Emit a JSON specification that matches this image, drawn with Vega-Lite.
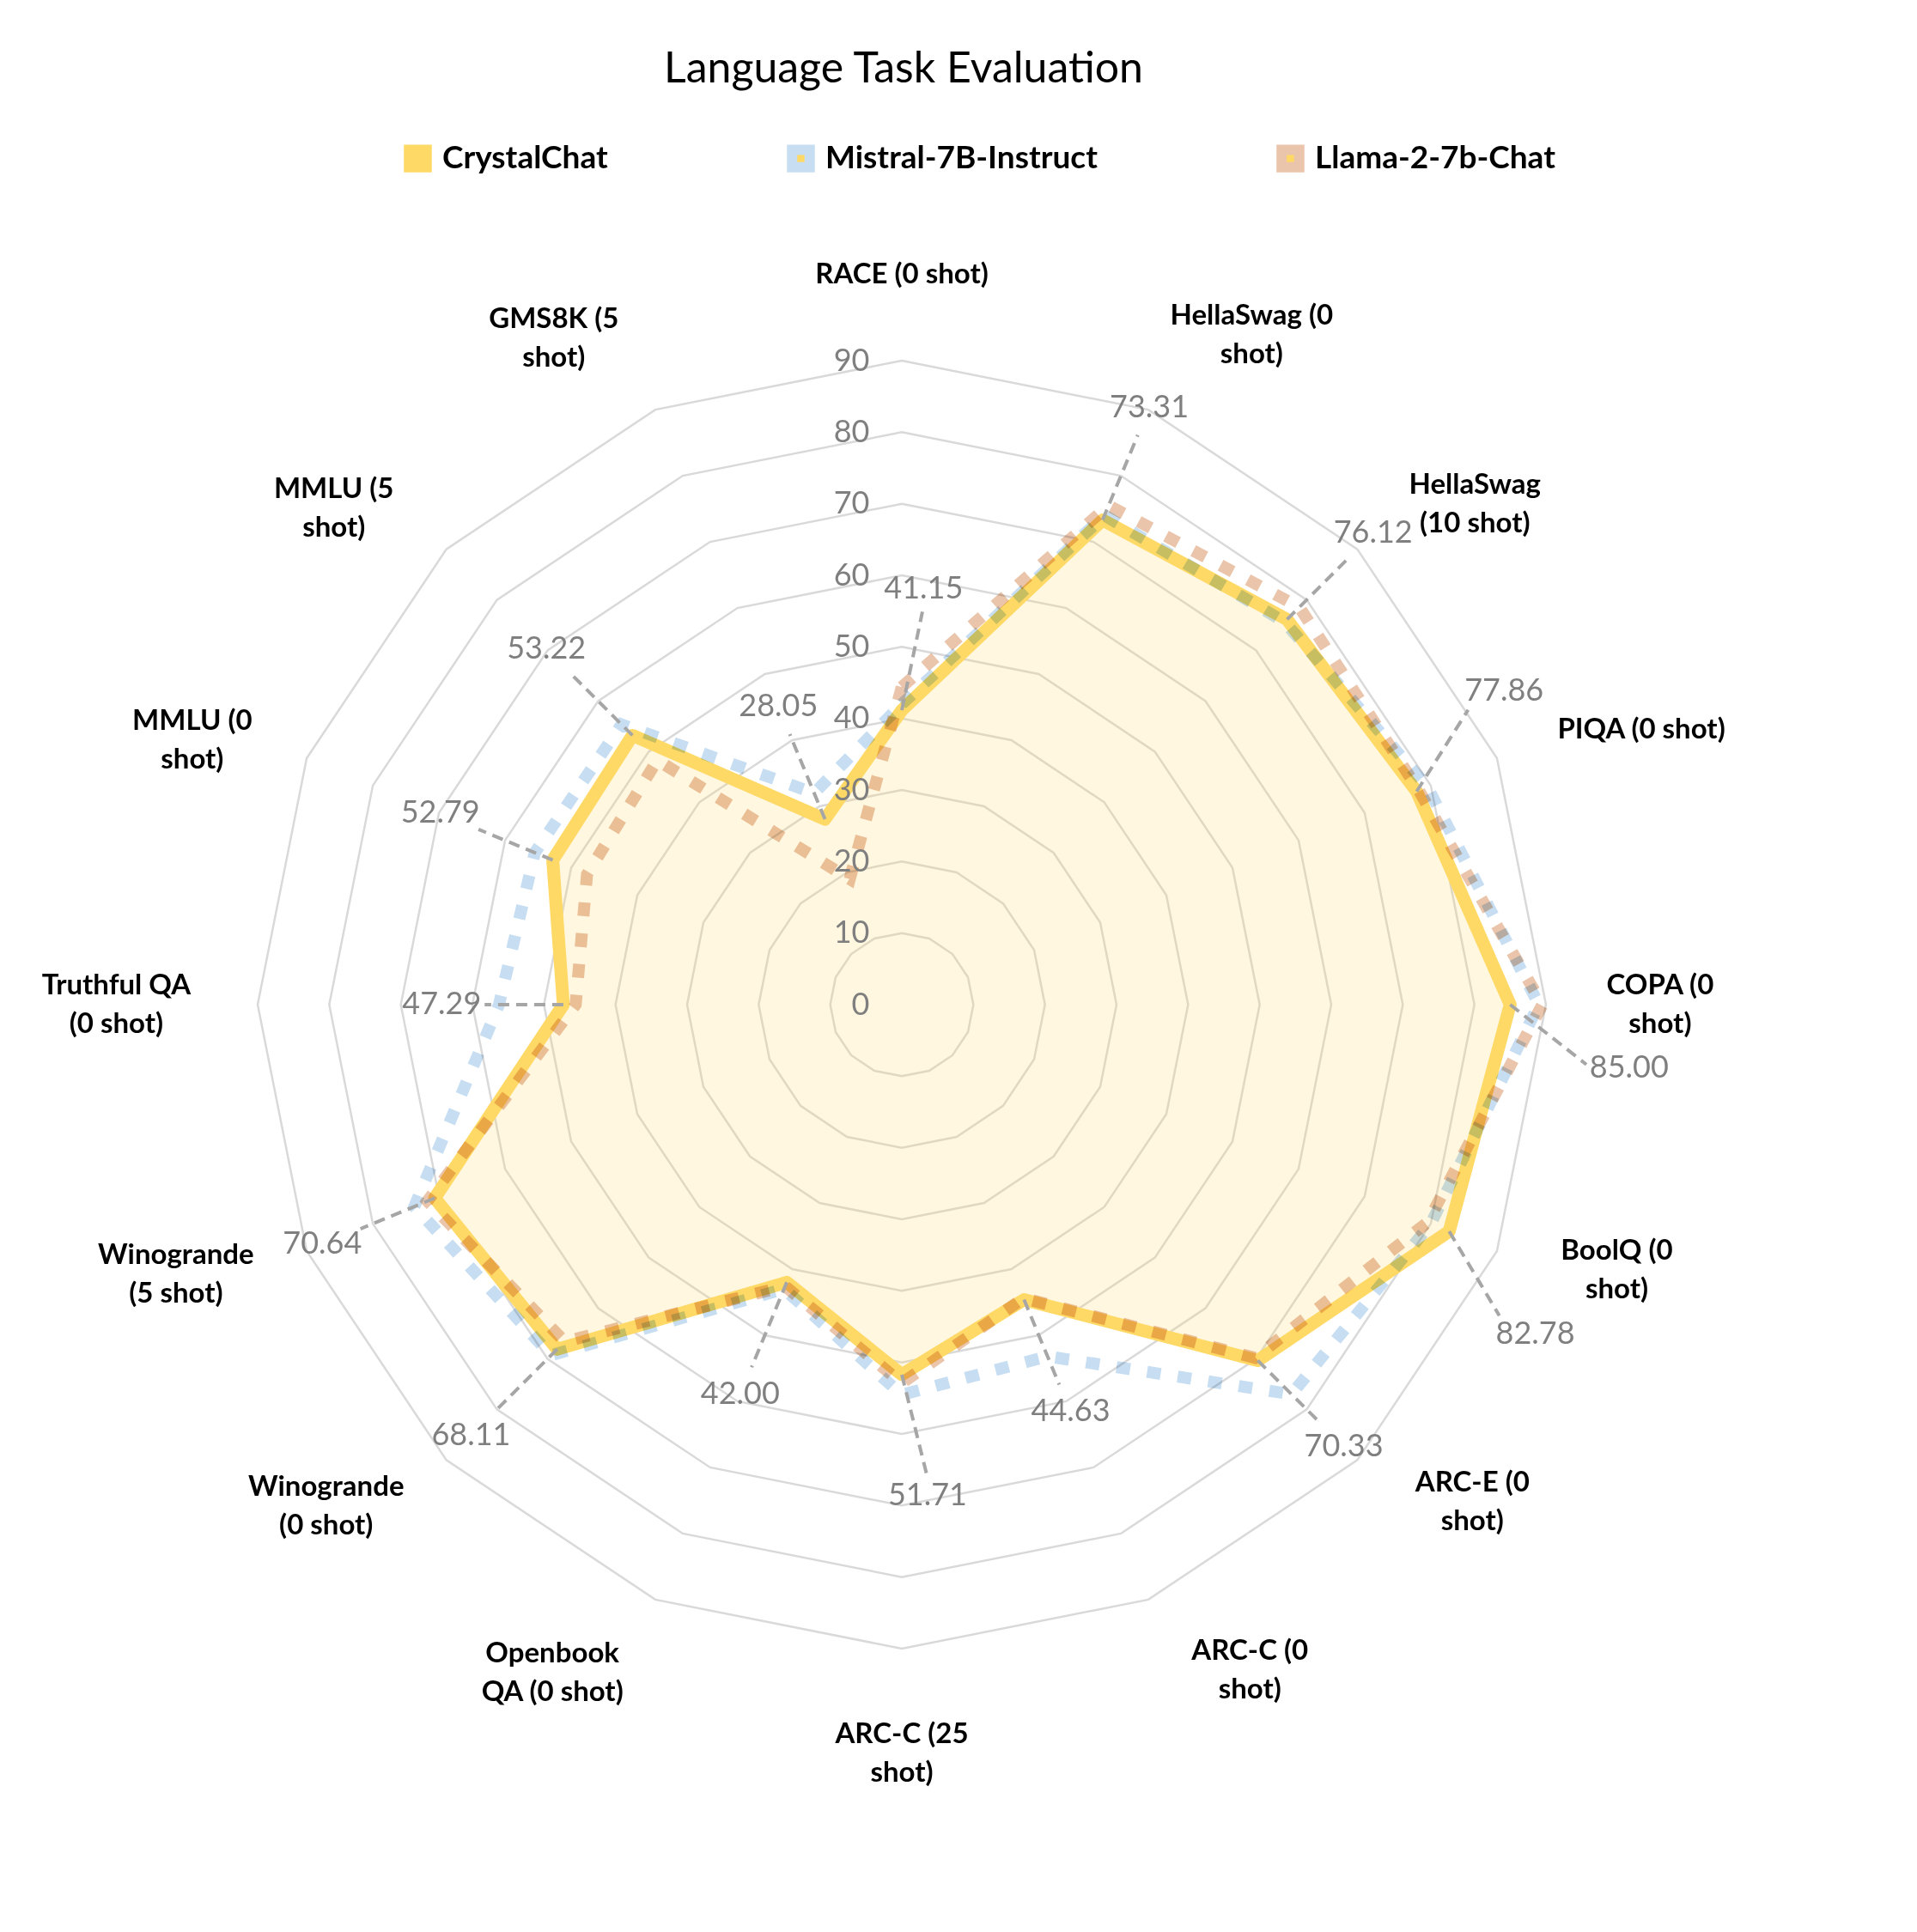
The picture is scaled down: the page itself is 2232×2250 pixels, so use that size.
{
  "$schema": "https://vega.github.io/schema/vega-lite/v6.json",
  "width": 2232,
  "height": 1990,
  "autosize": {"type": "none"},
  "padding": {"left": 0, "right": 0, "top": 260, "bottom": 0},
  "background": "white",
  "config": {"view": {"stroke": null}, "font": "Lato"},
  "title": {
    "text": "Language Task Evaluation",
    "font": "Lato",
    "fontSize": 50,
    "fontWeight": "normal",
    "color": "#000000",
    "anchor": "middle",
    "dx": -64,
    "offset": 60
  },
  "datasets": {
    "tasks": [
      {"task": "RACE (0 shot)", "order": 0, "label": "RACE (0 shot)"},
      {"task": "HellaSwag (0 shot)", "order": 1, "label": "HellaSwag (0\nshot)"},
      {"task": "HellaSwag (10 shot)", "order": 2, "label": "HellaSwag\n(10 shot)"},
      {"task": "PIQA (0 shot)", "order": 3, "label": "PIQA (0 shot)"},
      {"task": "COPA (0 shot)", "order": 4, "label": "COPA (0\nshot)"},
      {"task": "BoolQ (0 shot)", "order": 5, "label": "BoolQ (0\nshot)"},
      {"task": "ARC-E (0 shot)", "order": 6, "label": "ARC-E (0\nshot)"},
      {"task": "ARC-C (0 shot)", "order": 7, "label": "ARC-C (0\nshot)"},
      {"task": "ARC-C (25 shot)", "order": 8, "label": "ARC-C (25\nshot)"},
      {"task": "Openbook QA (0 shot)", "order": 9, "label": "Openbook\nQA (0 shot)"},
      {"task": "Winogrande (0 shot)", "order": 10, "label": "Winogrande\n(0 shot)"},
      {"task": "Winogrande (5 shot)", "order": 11, "label": "Winogrande\n(5 shot)"},
      {"task": "Truthful QA (0 shot)", "order": 12, "label": "Truthful QA\n(0 shot)"},
      {"task": "MMLU (0 shot)", "order": 13, "label": "MMLU (0\nshot)"},
      {"task": "MMLU (5 shot)", "order": 14, "label": "MMLU (5\nshot)"},
      {"task": "GMS8K (5 shot)", "order": 15, "label": "GMS8K (5\nshot)"}
    ],
    "grid": [
      {"task": "RACE (0 shot)", "level": [10, 20, 30, 40, 50, 60, 70, 80, 90]},
      {"task": "HellaSwag (0 shot)", "level": [10, 20, 30, 40, 50, 60, 70, 80, 90]},
      {"task": "HellaSwag (10 shot)", "level": [10, 20, 30, 40, 50, 60, 70, 80, 90]},
      {"task": "PIQA (0 shot)", "level": [10, 20, 30, 40, 50, 60, 70, 80, 90]},
      {"task": "COPA (0 shot)", "level": [10, 20, 30, 40, 50, 60, 70, 80, 90]},
      {"task": "BoolQ (0 shot)", "level": [10, 20, 30, 40, 50, 60, 70, 80, 90]},
      {"task": "ARC-E (0 shot)", "level": [10, 20, 30, 40, 50, 60, 70, 80, 90]},
      {"task": "ARC-C (0 shot)", "level": [10, 20, 30, 40, 50, 60, 70, 80, 90]},
      {"task": "ARC-C (25 shot)", "level": [10, 20, 30, 40, 50, 60, 70, 80, 90]},
      {"task": "Openbook QA (0 shot)", "level": [10, 20, 30, 40, 50, 60, 70, 80, 90]},
      {"task": "Winogrande (0 shot)", "level": [10, 20, 30, 40, 50, 60, 70, 80, 90]},
      {"task": "Winogrande (5 shot)", "level": [10, 20, 30, 40, 50, 60, 70, 80, 90]},
      {"task": "Truthful QA (0 shot)", "level": [10, 20, 30, 40, 50, 60, 70, 80, 90]},
      {"task": "MMLU (0 shot)", "level": [10, 20, 30, 40, 50, 60, 70, 80, 90]},
      {"task": "MMLU (5 shot)", "level": [10, 20, 30, 40, 50, 60, 70, 80, 90]},
      {"task": "GMS8K (5 shot)", "level": [10, 20, 30, 40, 50, 60, 70, 80, 90]}
    ],
    "scores": [
      {"task": "RACE (0 shot)", "model": "CrystalChat", "value": 41.15},
      {"task": "HellaSwag (0 shot)", "model": "CrystalChat", "value": 73.31},
      {"task": "HellaSwag (10 shot)", "model": "CrystalChat", "value": 76.12},
      {"task": "PIQA (0 shot)", "model": "CrystalChat", "value": 77.86},
      {"task": "COPA (0 shot)", "model": "CrystalChat", "value": 85.0},
      {"task": "BoolQ (0 shot)", "model": "CrystalChat", "value": 82.78},
      {"task": "ARC-E (0 shot)", "model": "CrystalChat", "value": 70.33},
      {"task": "ARC-C (0 shot)", "model": "CrystalChat", "value": 44.63},
      {"task": "ARC-C (25 shot)", "model": "CrystalChat", "value": 51.71},
      {"task": "Openbook QA (0 shot)", "model": "CrystalChat", "value": 42.0},
      {"task": "Winogrande (0 shot)", "model": "CrystalChat", "value": 68.11},
      {"task": "Winogrande (5 shot)", "model": "CrystalChat", "value": 70.64},
      {"task": "Truthful QA (0 shot)", "model": "CrystalChat", "value": 47.29},
      {"task": "MMLU (0 shot)", "model": "CrystalChat", "value": 52.79},
      {"task": "MMLU (5 shot)", "model": "CrystalChat", "value": 53.22},
      {"task": "GMS8K (5 shot)", "model": "CrystalChat", "value": 28.05},
      {"task": "RACE (0 shot)", "model": "Mistral-7B-Instruct", "value": 42.0},
      {"task": "HellaSwag (0 shot)", "model": "Mistral-7B-Instruct", "value": 74.0},
      {"task": "HellaSwag (10 shot)", "model": "Mistral-7B-Instruct", "value": 75.63},
      {"task": "PIQA (0 shot)", "model": "Mistral-7B-Instruct", "value": 79.5},
      {"task": "COPA (0 shot)", "model": "Mistral-7B-Instruct", "value": 89.0},
      {"task": "BoolQ (0 shot)", "model": "Mistral-7B-Instruct", "value": 80.0},
      {"task": "ARC-E (0 shot)", "model": "Mistral-7B-Instruct", "value": 77.0},
      {"task": "ARC-C (0 shot)", "model": "Mistral-7B-Instruct", "value": 53.2},
      {"task": "ARC-C (25 shot)", "model": "Mistral-7B-Instruct", "value": 54.52},
      {"task": "Openbook QA (0 shot)", "model": "Mistral-7B-Instruct", "value": 43.0},
      {"task": "Winogrande (0 shot)", "model": "Mistral-7B-Instruct", "value": 69.3},
      {"task": "Winogrande (5 shot)", "model": "Mistral-7B-Instruct", "value": 73.72},
      {"task": "Truthful QA (0 shot)", "model": "Mistral-7B-Instruct", "value": 56.28},
      {"task": "MMLU (0 shot)", "model": "Mistral-7B-Instruct", "value": 55.5},
      {"task": "MMLU (5 shot)", "model": "Mistral-7B-Instruct", "value": 55.38},
      {"task": "GMS8K (5 shot)", "model": "Mistral-7B-Instruct", "value": 32.0},
      {"task": "RACE (0 shot)", "model": "Llama-2-7b-Chat", "value": 44.4},
      {"task": "HellaSwag (0 shot)", "model": "Llama-2-7b-Chat", "value": 75.5},
      {"task": "HellaSwag (10 shot)", "model": "Llama-2-7b-Chat", "value": 78.55},
      {"task": "PIQA (0 shot)", "model": "Llama-2-7b-Chat", "value": 78.2},
      {"task": "COPA (0 shot)", "model": "Llama-2-7b-Chat", "value": 89.5},
      {"task": "BoolQ (0 shot)", "model": "Llama-2-7b-Chat", "value": 79.5},
      {"task": "ARC-E (0 shot)", "model": "Llama-2-7b-Chat", "value": 69.8},
      {"task": "ARC-C (0 shot)", "model": "Llama-2-7b-Chat", "value": 44.4},
      {"task": "ARC-C (25 shot)", "model": "Llama-2-7b-Chat", "value": 52.9},
      {"task": "Openbook QA (0 shot)", "model": "Llama-2-7b-Chat", "value": 42.6},
      {"task": "Winogrande (0 shot)", "model": "Llama-2-7b-Chat", "value": 66.6},
      {"task": "Winogrande (5 shot)", "model": "Llama-2-7b-Chat", "value": 71.74},
      {"task": "Truthful QA (0 shot)", "model": "Llama-2-7b-Chat", "value": 45.57},
      {"task": "MMLU (0 shot)", "model": "Llama-2-7b-Chat", "value": 47.6},
      {"task": "MMLU (5 shot)", "model": "Llama-2-7b-Chat", "value": 48.32},
      {"task": "GMS8K (5 shot)", "model": "Llama-2-7b-Chat", "value": 19.0}
    ]
  },
  "encoding": {
    "x": {
      "field": "px",
      "type": "quantitative",
      "scale": {"domain": [-126, 141.84], "nice": false, "zero": false},
      "axis": null
    },
    "y": {
      "field": "py",
      "type": "quantitative",
      "scale": {"domain": [-129.6, 109.2], "nice": false, "zero": false},
      "axis": {
        "values": [0, 10, 20, 30, 40, 50, 60, 70, 80, 90],
        "offset": -1050,
        "domain": false,
        "ticks": false,
        "grid": false,
        "labelPadding": 38,
        "labelFont": "Lato",
        "labelFontSize": 36,
        "labelColor": "#7F7F7F",
        "title": null,
        "zindex": 1
      }
    }
  },
  "layer": [
    {
      "data": {"name": "grid"},
      "transform": [
        {"flatten": ["level"]},
        {"lookup": "task", "from": {"data": {"name": "tasks"}, "key": "task", "fields": ["order"]}},
        {"calculate": "datum.order * PI / 8", "as": "angle"},
        {"calculate": "datum.level * sin(datum.angle)", "as": "px"},
        {"calculate": "datum.level * cos(datum.angle)", "as": "py"}
      ],
      "mark": {"type": "line", "interpolate": "linear-closed", "stroke": "#D9D9D9", "strokeWidth": 2.5},
      "encoding": {
        "detail": {"field": "level", "type": "nominal"},
        "order": {"field": "order", "type": "quantitative"}
      }
    },
    {
      "data": {"name": "scores"},
      "transform": [
        {"filter": "datum.model === 'CrystalChat'"},
        {"lookup": "task", "from": {"data": {"name": "tasks"}, "key": "task", "fields": ["order"]}},
        {"calculate": "datum.order * PI / 8", "as": "angle"},
        {"calculate": "datum.value * sin(datum.angle)", "as": "px"},
        {"calculate": "datum.value * cos(datum.angle)", "as": "py"}
      ],
      "mark": {"type": "line", "interpolate": "linear-closed", "fill": "#FFD966", "fillOpacity": 0.2, "strokeWidth": 15, "strokeJoin": "round"},
      "encoding": {
        "color": {
          "field": "model",
          "type": "nominal",
          "scale": {"domain": ["CrystalChat", "Mistral-7B-Instruct", "Llama-2-7b-Chat"], "range": ["#FFD966", "#C7DEF2", "#EAC5AB"]},
          "legend": {
            "title": null,
            "orient": "none",
            "direction": "horizontal",
            "legendX": 468,
            "legendY": -94,
            "columnPadding": 190,
            "labelFont": "Lato",
            "labelFontSize": 37,
            "labelFontWeight": "bold",
            "labelColor": "#000000",
            "labelLimit": 600,
            "symbolType": "square",
            "symbolSize": 420,
            "symbolStrokeWidth": 12,
            "labelOffset": 10
          }
        },
        "order": {"field": "order", "type": "quantitative"}
      }
    },
    {
      "data": {"name": "scores"},
      "transform": [
        {"filter": "datum.model === 'Mistral-7B-Instruct'"},
        {"lookup": "task", "from": {"data": {"name": "tasks"}, "key": "task", "fields": ["order"]}},
        {"calculate": "datum.order * PI / 8", "as": "angle"},
        {"calculate": "datum.value * sin(datum.angle)", "as": "px"},
        {"calculate": "datum.value * cos(datum.angle)", "as": "py"}
      ],
      "mark": {"type": "line", "interpolate": "linear-closed", "strokeWidth": 14, "strokeDash": [16, 20], "strokeCap": "butt", "blend": "multiply"},
      "encoding": {
        "color": {"field": "model", "type": "nominal"},
        "order": {"field": "order", "type": "quantitative"}
      }
    },
    {
      "data": {"name": "scores"},
      "transform": [
        {"filter": "datum.model === 'Llama-2-7b-Chat'"},
        {"lookup": "task", "from": {"data": {"name": "tasks"}, "key": "task", "fields": ["order"]}},
        {"calculate": "datum.order * PI / 8", "as": "angle"},
        {"calculate": "datum.value * sin(datum.angle)", "as": "px"},
        {"calculate": "datum.value * cos(datum.angle)", "as": "py"}
      ],
      "mark": {"type": "line", "interpolate": "linear-closed", "strokeWidth": 14, "strokeDash": [16, 20], "strokeCap": "butt", "blend": "multiply"},
      "encoding": {
        "color": {"field": "model", "type": "nominal"},
        "order": {"field": "order", "type": "quantitative"}
      }
    },
    {
      "data": {"name": "scores"},
      "transform": [
        {"filter": "datum.model === 'CrystalChat'"},
        {"lookup": "task", "from": {"data": {"name": "tasks"}, "key": "task", "fields": ["order"]}},
        {"calculate": "datum.order * PI / 8", "as": "angle"},
        {"calculate": "datum.value + 17", "as": "rl"},
        {"calculate": "datum.rl > 94 ? (datum.angle < PI / 2 - 0.01 ? -5 : 5) : (cos(datum.angle) > 0.99 ? 3 : (cos(datum.angle) < -0.99 ? -3 : 0))", "as": "shift"},
        {"calculate": "datum.angle + datum.shift * PI / 180", "as": "angle2"},
        {"calculate": "datum.rl - 3 - 3 * abs(sin(datum.angle2))", "as": "re"},
        {"calculate": "datum.value * sin(datum.angle)", "as": "px"},
        {"calculate": "datum.value * cos(datum.angle)", "as": "py"},
        {"calculate": "datum.re * sin(datum.angle2)", "as": "px2"},
        {"calculate": "datum.re * cos(datum.angle2)", "as": "py2"}
      ],
      "mark": {"type": "rule", "stroke": "#A6A6A6", "strokeWidth": 4, "strokeDash": [13, 8]},
      "encoding": {
        "x2": {"field": "px2"},
        "y2": {"field": "py2"}
      }
    },
    {
      "data": {"name": "scores"},
      "transform": [
        {"filter": "datum.model === 'CrystalChat'"},
        {"lookup": "task", "from": {"data": {"name": "tasks"}, "key": "task", "fields": ["order"]}},
        {"calculate": "datum.order * PI / 8", "as": "angle"},
        {"calculate": "datum.value + 17", "as": "rl"},
        {"calculate": "datum.rl > 94 ? (datum.angle < PI / 2 - 0.01 ? -5 : 5) : (cos(datum.angle) > 0.99 ? 3 : (cos(datum.angle) < -0.99 ? -3 : 0))", "as": "shift"},
        {"calculate": "datum.angle + datum.shift * PI / 180", "as": "angle2"},
        {"calculate": "datum.rl * sin(datum.angle2)", "as": "px"},
        {"calculate": "datum.rl * cos(datum.angle2)", "as": "py"}
      ],
      "mark": {"type": "text", "font": "Lato", "fontSize": 36, "color": "#7F7F7F", "align": "center", "baseline": "middle"},
      "encoding": {
        "text": {"field": "value", "type": "quantitative", "format": ".2f"}
      }
    },
    {
      "data": {"name": "tasks"},
      "transform": [
        {"calculate": "datum.order * PI / 8", "as": "angle"},
        {"calculate": "sin(datum.angle)", "as": "s"},
        {"calculate": "cos(datum.angle)", "as": "c"},
        {"calculate": "split(datum.label, '\\n')", "as": "lines"},
        {"calculate": "length(datum.lines) > 1 ? max(length(datum.lines[0]), length(datum.lines[1])) : length(datum.lines[0])", "as": "maxlen"},
        {"calculate": "5.5 * abs(datum.c) * min(1, 3 * abs(datum.s)) * (datum.s * datum.c > 0 ? 1 : -1)", "as": "d"},
        {"calculate": "datum.angle + datum.d * PI / 180", "as": "a2"},
        {"calculate": "99.3 + datum.c * datum.c * length(datum.lines) * 2.7 + datum.s * datum.s * datum.maxlen * 0.95", "as": "r"},
        {"calculate": "datum.r * sin(datum.a2)", "as": "px"},
        {"calculate": "datum.r * cos(datum.a2) + (length(datum.lines) - 1) * 2.7", "as": "py"}
      ],
      "mark": {"type": "text", "font": "Lato", "fontSize": 33, "fontWeight": "bold", "color": "#000000", "align": "center", "baseline": "middle", "lineBreak": "\n", "lineHeight": 45},
      "encoding": {
        "text": {"field": "label", "type": "nominal"}
      }
    }
  ]
}
